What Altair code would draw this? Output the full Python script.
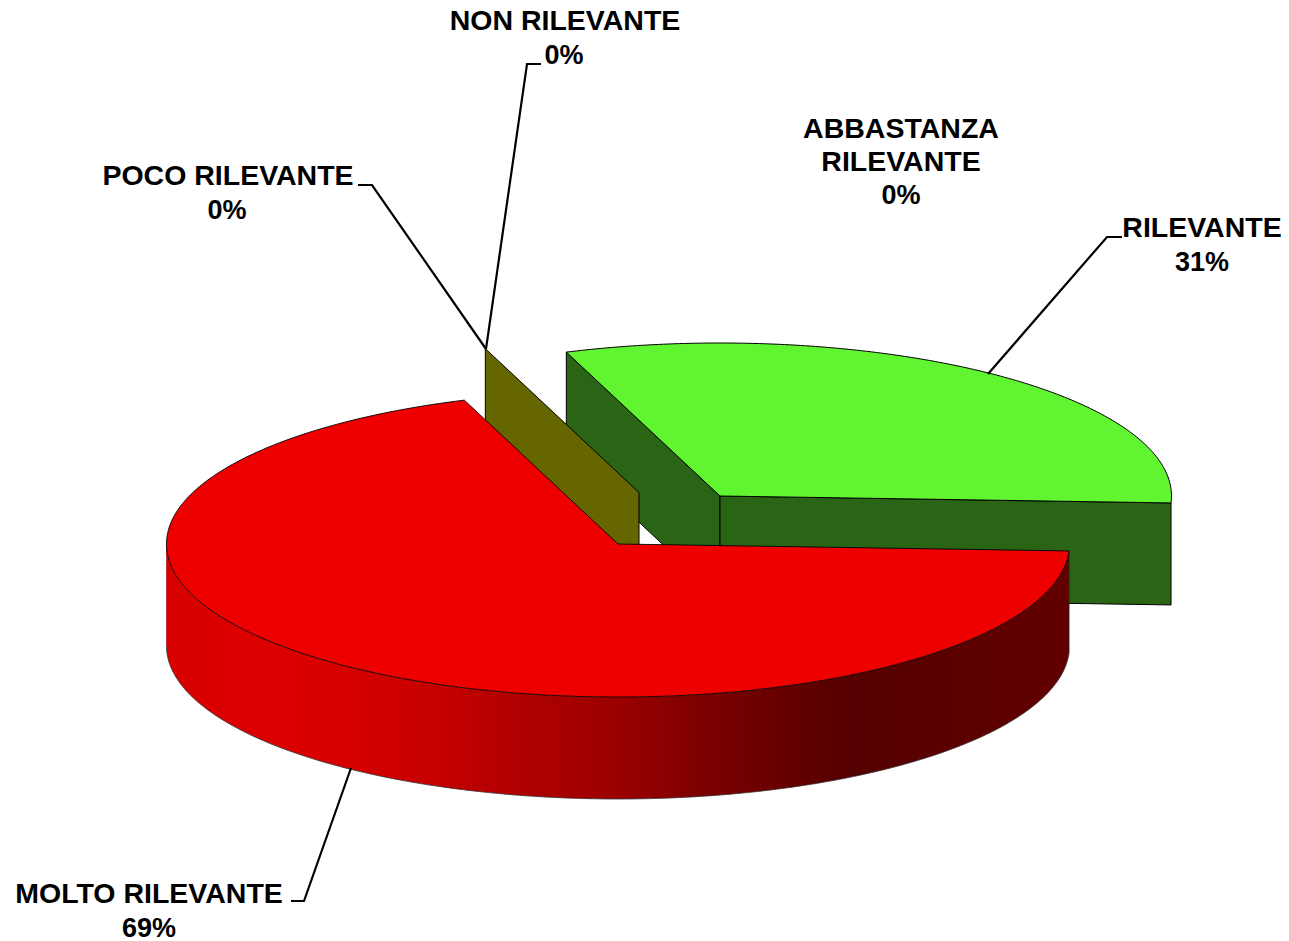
import math
import altair as alt
import pandas as pd

# ---- chart values
categories = ["MOLTO RILEVANTE", "RILEVANTE", "ABBASTANZA RILEVANTE", "POCO RILEVANTE", "NON RILEVANTE"]
shares = [68.75, 31.25, 0, 0, 0]

# ---- label text
name_lines = ["MOLTO RILEVANTE", "RILEVANTE", "ABBASTANZA", "RILEVANTE", "POCO RILEVANTE", "NON RILEVANTE"]
name_x = [149, 1202, 901, 901, 228, 565]
name_y = [903, 237, 138, 171, 185, 30]
pct_lines = ["69%", "31%", "0%", "0%", "0%"]
pct_x = [149, 1202, 901, 227, 564]
pct_y = [937, 271, 204, 219, 64]

# ---- leader lines
leader_x = [[291, 304, 351], [1122, 1107, 988], [358, 372, 486], [541, 527, 486]]
leader_y = [[901, 901, 768], [237, 237, 374], [185, 185, 349], [64, 64, 349]]

# ---- pie projection
RX, RY, DEPTH = 451.5, 153, 102
START = 2.6
RED_C = (618, 544)
GREEN_C = (720, 496)
OLIVE_C = (639, 492.5)

RED, GREEN, GREEN_DK, OLIVE = "#EE0000", "#60F530", "#2A6515", "#666600"
WALL_STOPS = [(0, "#d80000"), (0.12, "#de0000"), (0.2, "#d60000"), (0.31, "#c40000"), (0.39, "#b00000"),
              (0.48, "#a00000"), (0.535, "#900000"), (0.61, "#780000"), (0.68, "#680000"),
              (0.76, "#550000"), (1, "#620000")]

W, H = 1273, 933
xs = alt.Scale(domain=[8, 8 + W], nice=False, zero=False)
ys = alt.Scale(domain=[8, 8 + H], nice=False, zero=False, reverse=True)
X = alt.X("x:Q", scale=xs, axis=None)
Y = alt.Y("y:Q", scale=ys, axis=None)


def rim(c, a0, a1, drop=0):
    n = max(2, int(abs(a1 - a0) * 1.5))
    return [(c[0] + RX * math.cos(math.radians(a0 + (a1 - a0) * i / n)),
             c[1] + drop + RY * math.sin(math.radians(a0 + (a1 - a0) * i / n))) for i in range(n + 1)]


def poly(points, fill, closed=True, width=1.0, stroke="#000000"):
    df = pd.DataFrame(points, columns=["x", "y"])
    df["o"] = range(len(df))
    kw = {"fill": fill} if fill else {}
    return alt.Chart(df).mark_line(stroke=stroke, strokeWidth=width,
                                   interpolate="linear-closed" if closed else "linear", **kw
                                   ).encode(x=X, y=Y, order="o:Q")


total = sum(shares)
red_end = START + 360 * shares[0] / total
green_end = red_end + 360 * shares[1] / total

layers = []

# green slice
g_a = rim(GREEN_C, red_end, red_end)[0]
g_b = rim(GREEN_C, green_end, green_end)[0]
layers.append(poly([g_a, GREEN_C, (GREEN_C[0], GREEN_C[1] + DEPTH), (g_a[0], g_a[1] + DEPTH)], GREEN_DK))
layers.append(poly([GREEN_C, g_b, (g_b[0], g_b[1] + DEPTH), (GREEN_C[0], GREEN_C[1] + DEPTH)], GREEN_DK))
layers.append(poly([GREEN_C] + rim(GREEN_C, red_end, green_end), GREEN))

# olive zero slices
o_a = rim(OLIVE_C, red_end, red_end)[0]
layers.append(poly([o_a, OLIVE_C, (OLIVE_C[0], OLIVE_C[1] + DEPTH), (o_a[0], o_a[1] + DEPTH)], OLIVE))

# red slice wall
upper = rim(RED_C, START, 180)
lower = rim(RED_C, START, 180, DEPTH)
wall = pd.DataFrame({"x": [p[0] for p in upper], "y": [p[1] for p in upper], "y2": [p[1] for p in lower]})
layers.append(alt.Chart(wall).mark_area(
    color=alt.Gradient(gradient="linear", x1=0, x2=1, y1=0, y2=0,
                       stops=[alt.GradientStop(offset=o, color=c) for o, c in WALL_STOPS]),
    interpolate="linear").encode(x=alt.X("x:Q", scale=xs, axis=None), y=Y, y2="y2:Q"))
layers.append(poly(lower, None, closed=False, width=0.8, stroke="#333333"))
layers.append(poly([lower[0], upper[0]], None, closed=False, width=0.8, stroke="#222222"))
layers.append(poly([lower[-1], upper[-1]], None, closed=False, width=0.6, stroke="#aa0000"))

# red top
layers.append(poly([RED_C] + rim(RED_C, START, red_end), RED, width=0.9))

# leaders
for lx, ly in zip(leader_x, leader_y):
    layers.append(poly(list(zip(lx, ly)), None, closed=False, width=2.2))

# labels
for tx, ty, tt, fs in [(name_x, name_y, name_lines, 28.5), (pct_x, pct_y, pct_lines, 27)]:
    labels = pd.DataFrame({"x": tx, "y": ty, "t": tt})
    layers.append(alt.Chart(labels).mark_text(font="Liberation Sans", fontWeight="bold", fontSize=fs,
                                              align="center", baseline="alphabetic", color="#000000"
                                              ).encode(x=X, y=Y, text="t:N"))

chart = alt.layer(*layers).properties(
    width=W, height=H, padding=0, background="#ffffff", autosize=alt.AutoSizeParams(type="none")
).configure_view(stroke=None)

chart.save("out.html", embed_options={"renderer": "svg", "actions": False})
